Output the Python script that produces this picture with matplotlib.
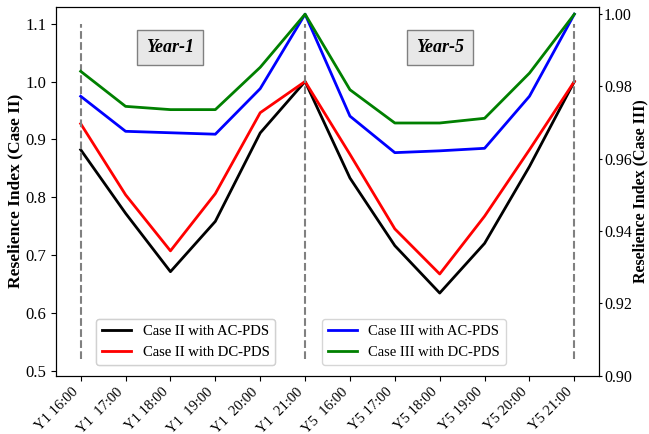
import matplotlib.pyplot as plt

plt.rcParams['font.family'] = ['Liberation Serif', 'DejaVu Serif']

hours = ['Y1 16:00', 'Y1  17:00', 'Y1 18:00', 'Y1  19:00', 'Y1  20:00', 'Y1  21:00',
         'Y5  16:00', 'Y5 17:00', 'Y5 18:00', 'Y5 19:00', 'Y5 20:00', 'Y5 21:00']

# Case II (left axis)
case2_ac = [0.882, 0.772, 0.671, 0.758, 0.911, 1.000, 0.833, 0.716, 0.634, 0.720, 0.853, 1.000]
case2_dc = [0.927, 0.804, 0.707, 0.806, 0.946, 1.000, 0.874, 0.745, 0.667, 0.767, 0.882, 1.000]
# Case III (right axis)
case3_ac = [0.9773, 0.9676, 0.9672, 0.9668, 0.9794, 1.000, 0.9718, 0.9617, 0.9622, 0.9629, 0.9773, 1.000]
case3_dc = [0.9842, 0.9745, 0.9736, 0.9736, 0.9853, 1.000, 0.9791, 0.9699, 0.9699, 0.9712, 0.9837, 1.000]

x = list(range(len(hours)))

fig, ax = plt.subplots(figsize=(6.49, 4.34), dpi=100)
fig.subplots_adjust(left=0.0863, right=0.923, top=0.984, bottom=0.1343)

l1, = ax.plot(x, case2_ac, color='black', lw=2, label='Case II with AC-PDS')
l2, = ax.plot(x, case2_dc, color='red', lw=2, label='Case II with DC-PDS')
ax.vlines([0, 5, 11], 0.52, 1.1, colors='gray', linestyles='dashed', lw=1.5)

ax.set_ylabel('Reselience Index (Case II)', fontsize=12.5, fontweight='bold')
ax.yaxis.set_label_coords(-0.06, 0.5)
ax.set_xticks(x)
ax.set_xticklabels(hours, rotation=45, ha='right', fontsize=10.5)
ax.tick_params(axis='y', labelsize=12)
ax.set_yticks([0.5, 0.6, 0.7, 0.8, 0.9, 1.0, 1.1])

ax2 = ax.twinx()
l3, = ax2.plot(x, case3_ac, color='blue', lw=2, label='Case III with AC-PDS')
l4, = ax2.plot(x, case3_dc, color='green', lw=2, label='Case III with DC-PDS')
ax2.set_ylim(0.9, 1.002)
ax2.set_yticks([0.90, 0.92, 0.94, 0.96, 0.98, 1.00])
ax2.set_ylabel('Reselience Index (Case III)', fontsize=11.5, fontweight='bold')
ax2.yaxis.set_label_coords(1.062, 0.5)
ax2.tick_params(axis='y', labelsize=11.5, length=2.5, pad=1)

box = dict(facecolor='#e8e8e8', edgecolor='gray', boxstyle='square,pad=0.5')
ax.text(2, 1.059, 'Year-1', fontsize=13, fontweight='bold', style='italic',
        ha='center', va='center', bbox=box)
ax.text(8, 1.059, 'Year-5', fontsize=13, fontweight='bold', style='italic',
        ha='center', va='center', bbox=box)

leg1 = ax.legend(handles=[l1, l2], loc='lower left', bbox_to_anchor=(0.06, 0.01), fontsize=10.5)
ax.add_artist(leg1)
ax2.legend(handles=[l3, l4], loc='lower left', bbox_to_anchor=(0.476, 0.01), fontsize=10.5)

plt.savefig('out.png', dpi=100)
